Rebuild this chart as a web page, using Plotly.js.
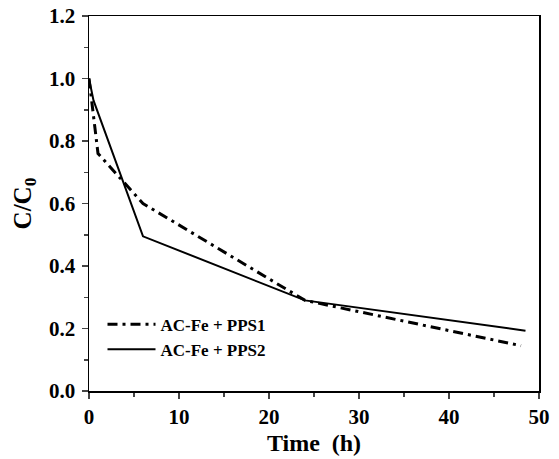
<!DOCTYPE html>
<html>
<head>
<meta charset="utf-8">
<script src="https://cdn.plot.ly/plotly-3.0.1.min.js"></script>
<style>html,body{margin:0;padding:0;background:#fff;}#chart{width:559px;height:459px;}</style>
</head>
<body>
<div id="chart"></div>
<script>
var timePPS1 = [0, 0.5, 1, 6, 24, 48];
var valuesPPS1 = [1.0, 0.88, 0.76, 0.60, 0.29, 0.145];
var timePPS2 = [0, 0.5, 6, 24, 48.5];
var valuesPPS2 = [1.0, 0.93, 0.495, 0.29, 0.193];
var seriesNames = ["AC-Fe + PPS1", "AC-Fe + PPS2"];
var xTickVals = [0, 10, 20, 30, 40, 50];
var xTickText = ["0", "10", "20", "30", "40", "50"];
var yTickVals = [0, 0.2, 0.4, 0.6, 0.8, 1.0, 1.2];
var yTickText = ["0.0", "0.2", "0.4", "0.6", "0.8", "1.0", "1.2"];

var fontFam = "Liberation Serif, Times New Roman, serif";
function bold(arr) { return arr.map(function (s) { return "<b>" + s + "</b>"; }); }

var traces = [
  {x: timePPS1, y: valuesPPS1, name: "<b>" + seriesNames[0] + "</b>", mode: "lines",
   line: {color: "#000", width: 3, dash: "10px,5px,3px,5px"}},
  {x: timePPS2, y: valuesPPS2, name: "<b>" + seriesNames[1] + "</b>", mode: "lines",
   line: {color: "#000", width: 2}}
];

var layout = {
  width: 559, height: 459,
  margin: {l: 89, r: 20, t: 16, b: 68},
  paper_bgcolor: "#fff", plot_bgcolor: "#fff",
  showlegend: true,
  legend: {x: 0.03, y: 0.225, xanchor: "left", yanchor: "top", bgcolor: "rgba(0,0,0,0)",
    itemwidth: 48,
    font: {family: fontFam, size: 17, color: "#000"}, tracegroupgap: 0},
  xaxis: {
    range: [0, 50], tickvals: xTickVals, ticktext: bold(xTickText), ticks: "outside", ticklen: 6, tickwidth: 1.5,
    showline: true, linewidth: 1.5, linecolor: "#000", mirror: true, showgrid: false, zeroline: false,
    minor: {dtick: 5, ticks: "outside", ticklen: 4, tickwidth: 1.5, showgrid: false},
    tickfont: {family: fontFam, size: 21, color: "#000", weight: 700},
    title: {text: "<b>Time\u00a0\u00a0(h)</b>", font: {family: fontFam, size: 24, color: "#000"}, standoff: 6}
  },
  yaxis: {
    range: [0, 1.2], tickvals: yTickVals, ticktext: bold(yTickText),
    ticks: "outside", ticklen: 6, tickwidth: 1.5, ticklabelstandoff: 2,
    showline: true, linewidth: 1.5, linecolor: "#000", mirror: true, showgrid: false, zeroline: false,
    minor: {dtick: 0.1, ticks: "outside", ticklen: 4, tickwidth: 1.5, showgrid: false},
    tickfont: {family: fontFam, size: 21, color: "#000", weight: 700},
    title: {text: "<b>C/C<sub>0</sub></b>", font: {family: fontFam, size: 25, color: "#000"}, standoff: 10}
  }
};

Plotly.newPlot("chart", traces, layout, {displayModeBar: false, staticPlot: true});
</script>
</body>
</html>
